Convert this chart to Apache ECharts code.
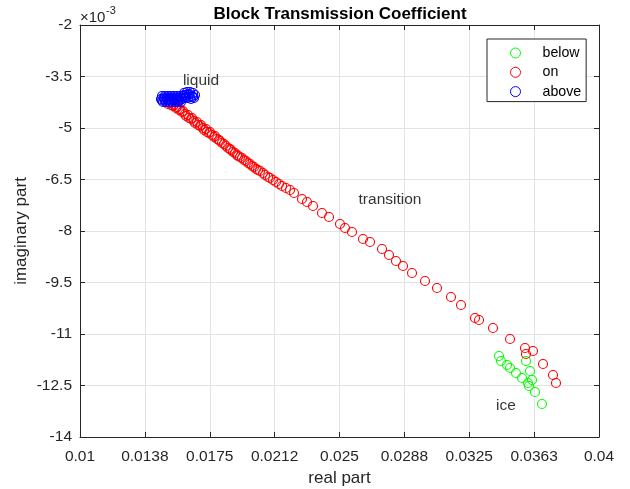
<!DOCTYPE html>
<html><head><meta charset="utf-8">
<script src="https://cdn.jsdelivr.net/npm/echarts@6/dist/echarts.min.js"></script>
<style>html,body{margin:0;padding:0;background:#fff}#c{width:630px;height:489px}</style>
</head><body><div id="c"></div>
<script>
const titleText = 'Block Transmission Coefficient';
const xName = 'real part';
const yName = 'imaginary part';
const xTickLabels = ['0.01','0.0138','0.0175','0.0212','0.025','0.0288','0.0325','0.0363','0.04'];
const yTickLabels = ['-14','-12.5','-11','-9.5','-8','-6.5','-5','-3.5','-2'];
const X_MIN = 0.01, X_STEP = 0.00375;
const Y_MIN = -0.014, Y_STEP = 0.0015;
const seriesNames = ['below','on','above'];
const seriesColors = ['#00ff00','#ff0000','#0000ff'];

const realBelow = [0.034220,0.034335,0.034682,0.034855,0.035202,0.035549,0.035780,0.036012,0.035896,0.036127,0.035954,0.036300,0.036705];
const imagBelow = [-0.0116407,-0.0117864,-0.0119028,-0.0119902,-0.0121359,-0.0122815,-0.0117864,-0.0120777,-0.0124271,-0.0123398,-0.0125145,-0.0126893,-0.0130388];

const realOn = [0.014971,0.015087,0.015202,0.015260,0.015376,0.015434,0.015549,0.015607,0.015723,0.015780,
0.015896,0.015954,0.016069,0.016127,0.016243,0.016301,0.016416,0.016474,0.016590,0.016647,
0.016763,0.016821,0.016936,0.016994,0.017110,0.017168,0.017283,0.017341,0.017457,0.017514,
0.017630,0.017746,0.017803,0.017919,0.018035,0.018092,0.018208,0.018324,0.018439,0.018555,
0.018670,0.018728,0.018844,0.018959,0.019075,0.019133,0.019248,0.019364,0.019480,0.019595,
0.019711,0.019827,0.019942,0.020058,0.020173,0.020289,0.020405,0.020578,0.020694,0.020867,
0.020983,0.021156,0.021329,0.021503,0.021676,0.021908,0.022139,0.022370,
0.022832,0.023121,0.023468,0.023988,0.024393,0.025029,0.025318,0.025722,0.026358,0.026763,
0.027457,0.027861,0.028266,0.028670,0.029191,0.029942,0.030636,0.031445,0.032023,0.032832,
0.033064,0.033873,0.034855,0.035723,0.035780,0.036185,0.036763,0.037341,0.037514];
const imagOn = [-0.0042427,-0.0043010,-0.0042718,-0.0043301,-0.0043592,-0.0043301,-0.0044175,-0.0043883,-0.0044757,-0.0044466,
-0.0045340,-0.0045048,-0.0045922,-0.0046505,-0.0046213,-0.0047087,-0.0047378,-0.0047087,-0.0047961,-0.0048543,
-0.0048252,-0.0049126,-0.0049417,-0.0049126,-0.0050000,-0.0050583,-0.0050291,-0.0051165,-0.0051456,-0.0051165,
-0.0052039,-0.0052621,-0.0052330,-0.0053204,-0.0053495,-0.0053786,-0.0054369,-0.0054660,-0.0055243,-0.0055825,
-0.0056116,-0.0056408,-0.0056990,-0.0057281,-0.0057864,-0.0058155,-0.0058447,-0.0058738,-0.0059320,-0.0059612,
-0.0060194,-0.0060485,-0.0061068,-0.0061359,-0.0061942,-0.0062233,-0.0062524,-0.0063106,-0.0063689,-0.0064272,
-0.0064563,-0.0065146,-0.0065728,-0.0066311,-0.0066893,-0.0067475,-0.0068058,-0.0068932,
-0.0070679,-0.0071553,-0.0072718,-0.0074757,-0.0075922,-0.0077961,-0.0079126,-0.0080291,-0.0082330,-0.0083204,
-0.0085242,-0.0086990,-0.0088737,-0.0090194,-0.0092233,-0.0094563,-0.0096602,-0.0099223,-0.0101553,-0.0105339,
-0.0105922,-0.0108252,-0.0111456,-0.0114077,-0.0115825,-0.0114951,-0.0118737,-0.0121941,-0.0124271];

const realAbove = [0.014740,0.014913,0.015087,0.015260,0.015434,0.015607,0.015780,
0.014826,0.015000,0.015173,0.015347,0.015520,0.015694,0.015867,
0.014682,0.014855,0.015029,0.015202,0.015376,0.015549,0.015723,0.015896,
0.014740,0.014913,0.015087,0.015260,0.015434,0.015607,0.015780,
0.014798,0.014971,0.015144,0.015318,0.015491,0.015665,0.015838,
0.016012,0.016185,0.016358,0.016532,0.016647,0.015954,0.016127,0.016301,0.016474,0.016590,0.016069,0.016243,0.016416,
0.016301,0.016127,0.016358,0.016532,0.016012];
const imagAbove = [-0.004068,-0.004068,-0.004068,-0.004068,-0.004068,-0.004068,-0.004068,
-0.004112,-0.004112,-0.004112,-0.004112,-0.004112,-0.004112,-0.004112,
-0.004155,-0.004155,-0.004155,-0.004155,-0.004155,-0.004155,-0.004155,-0.004155,
-0.004199,-0.004199,-0.004199,-0.004199,-0.004199,-0.004199,-0.004199,
-0.004243,-0.004243,-0.004243,-0.004243,-0.004243,-0.004243,-0.004243,
-0.003981,-0.003951,-0.003951,-0.003981,-0.004039,-0.004068,-0.004039,-0.004039,-0.004068,-0.004126,-0.004126,-0.004126,-0.004155,
-0.004010,-0.004097,-0.004097,-0.004097,-0.004039];

const annotationTexts = ['liquid','transition','ice'];
const annotationReal = [0.016994, 0.027919, 0.034624];
const annotationImag = [-0.003631, -0.007097, -0.013097];

const toX = v => (v - X_MIN) / X_STEP;
const toY = v => (v - Y_MIN) / Y_STEP;
const pts = (re, im) => re.map((x, i) => [toX(x), toY(im[i])]);

const FONT = '"Liberation Sans", Arial, Helvetica, sans-serif';
const AX = '#262626';

const scatter = (name, color, data) => ({
  name, type: 'scatter', xAxisIndex: 0, yAxisIndex: 0,
  symbol: 'circle', symbolSize: 9, data,
  itemStyle: { color: 'rgba(0,0,0,0)', borderColor: color, borderWidth: 1.1, opacity: 1 },
  emphasis: { disabled: true }, animation: false
});

const baseX = {
  type: 'value', min: 0, max: 8, interval: 1,
  axisLine: { show: true, onZero: false, lineStyle: { color: AX, width: 1 } },
  axisTick: { show: true, inside: true, length: 5, lineStyle: { color: AX } }
};
const baseY = JSON.parse(JSON.stringify(baseX));

const chart = echarts.init(document.getElementById('c'), null, { renderer: 'canvas' });
chart.setOption({
  animation: false,
  backgroundColor: '#fff',
  textStyle: { fontFamily: FONT },
  grid: { left: 80, right: 31, top: 25, bottom: 52, containLabel: false, outerBoundsMode: 'none' },
  graphic: [
    { type: 'text', x: 340, y: 14, style: { text: titleText, align: 'center', verticalAlign: 'middle', fontSize: 17, fontWeight: 'bold', fontFamily: FONT, fill: '#000' } },
    { type: 'text', x: 80, y: 18, style: { text: '×10', align: 'left', verticalAlign: 'middle', fontSize: 15, fontFamily: FONT, fill: AX } },
    { type: 'text', x: 106, y: 11, style: { text: '-3', align: 'left', verticalAlign: 'middle', fontSize: 11, fontFamily: FONT, fill: AX } },
    { type: 'text', x: 21, y: 231, rotation: Math.PI / 2, style: { text: yName, align: 'center', verticalAlign: 'middle', fontSize: 17, fontFamily: FONT, fill: AX } }
  ],
  legend: {
    data: seriesNames, orient: 'vertical', left: 487, top: 39,
    itemWidth: 44, itemHeight: 10, itemGap: 5.3,
    padding: [7, 5, 3, 23],
    borderColor: AX, borderWidth: 1, backgroundColor: '#fff',
    itemStyle: { borderWidth: 1 },
    textStyle: { fontSize: 14.2, color: '#000', fontFamily: FONT },
    selectedMode: false
  },
  xAxis: [
    Object.assign({}, baseX, {
      position: 'bottom',
      axisLabel: { show: true, margin: 12, fontSize: 15.5, color: AX, fontFamily: FONT, formatter: v => xTickLabels[Math.round(v)] },
      splitLine: { show: true, lineStyle: { color: '#e3e3e3', width: 1 } },
      name: xName, nameLocation: 'middle', nameGap: 31,
      nameTextStyle: { fontSize: 17, color: AX, fontFamily: FONT }
    }),
    Object.assign({}, baseX, { position: 'top', axisLabel: { show: false }, splitLine: { show: false } })
  ],
  yAxis: [
    Object.assign({}, baseY, {
      position: 'left',
      axisLabel: { show: true, margin: 8, fontSize: 15.5, color: AX, fontFamily: FONT, formatter: v => yTickLabels[Math.round(v)] },
      splitLine: { show: true, lineStyle: { color: '#e3e3e3', width: 1 } }
    }),
    Object.assign({}, baseY, { position: 'right', axisLabel: { show: false }, splitLine: { show: false } })
  ],
  series: [
    scatter(seriesNames[0], seriesColors[0], pts(realBelow, imagBelow)),
    scatter(seriesNames[1], seriesColors[1], pts(realOn, imagOn)),
    scatter(seriesNames[2], seriesColors[2], pts(realAbove, imagAbove)),
    {
      name: 'annotations', type: 'scatter', symbolSize: 1, silent: true,
      itemStyle: { color: 'rgba(0,0,0,0)' },
      data: annotationTexts.map((t, i) => ({ name: t, value: [toX(annotationReal[i]), toY(annotationImag[i])] })),
      label: { show: true, position: 'inside', formatter: '{b}', fontSize: 15.5, color: '#000', fontFamily: FONT },
      emphasis: { disabled: true }
    }
  ]
});
</script></body></html>
